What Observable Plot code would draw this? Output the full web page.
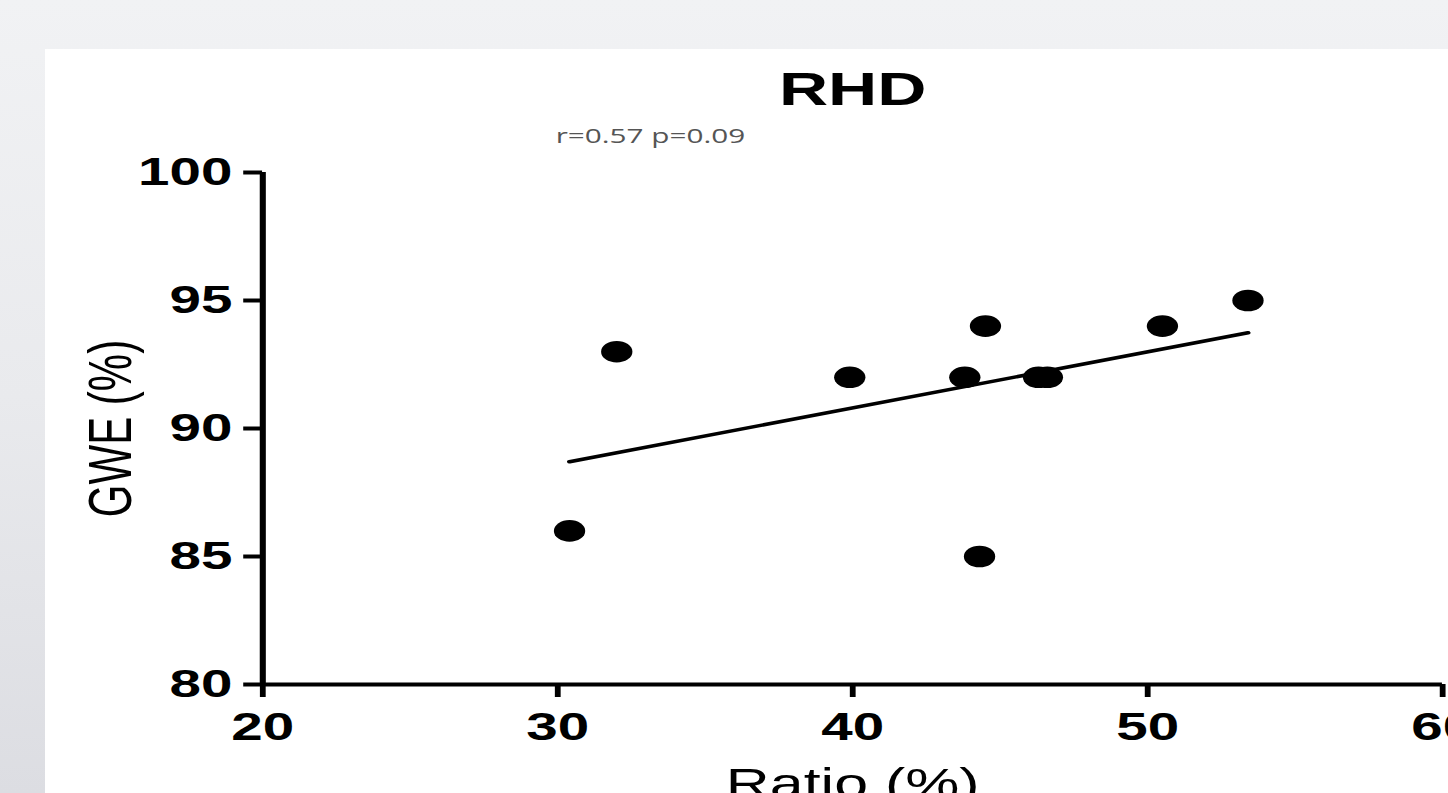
<!DOCTYPE html>
<html>
<head>
<meta charset="utf-8">
<script src="https://cdn.jsdelivr.net/npm/d3@7"></script>
<script src="https://cdn.jsdelivr.net/npm/@observablehq/plot@0.6"></script>
<style>
  html, body { margin: 0; padding: 0; width: 1448px; height: 793px; overflow: hidden; }
  body { background: linear-gradient(to bottom, #f1f2f4 0%, #e9eaed 50%, #dcdde2 100%); position: relative; font-family: "Liberation Sans", Arial, sans-serif; }
  #panel { position: absolute; left: 45px; top: 49px; right: 0; bottom: 0; background: #ffffff; overflow: hidden; }
  #chart { position: absolute; left: 0; top: 0; }
</style>
</head>
<body>
<div id="panel"><div id="chart"></div></div>
<script>
// ---- data ----
const ratio = [30.4, 32.0, 39.9, 43.8, 44.5, 44.3, 46.3, 46.6, 50.5, 53.4];
const gwe   = [86,   93,   92,   92,   94,   85,   92,   92,   94,   95];
const xTicks = [20, 30, 40, 50, 60];
const yTicks = [80, 85, 90, 95, 100];
const xDomain = [20, 60];
const yDomain = [80, 100];
const title = "RHD";
const annotation = "r=0.57 p=0.09";
const xLabel = "Ratio (%)";
const yLabel = "GWE (%)";

const points = ratio.map((r, i) => ({ratio: r, gwe: gwe[i]}));

// The reference image is stretched horizontally; draw at a narrower width and stretch.
const stretch = 1.45;
const W = 1000, H = 800;

const chart = Plot.plot({
  width: W,
  height: H,
  marginLeft: 149.7,
  marginRight: 36.6,
  marginTop: 123,
  marginBottom: 165,
  style: {fontFamily: "'Liberation Sans', Arial, sans-serif", background: "transparent", color: "#000"},
  x: {domain: xDomain, ticks: xTicks, label: null},
  y: {domain: yDomain, ticks: yTicks, label: null},
  marks: [
    Plot.ruleX([xDomain[0]], {stroke: "#000", strokeWidth: 4.2}),
    Plot.ruleY([yDomain[0]], {stroke: "#000", strokeWidth: 4.2}),
    Plot.axisX({ticks: xTicks, tickSize: 13, tickPadding: 15, strokeWidth: 4, fontSize: 39, fontWeight: "bold", label: null}),
    Plot.axisY({ticks: yTicks, tickSize: 13, tickPadding: 8, strokeWidth: 4, fontSize: 39, fontWeight: "bold", label: null}),
    Plot.linearRegressionY(points, {x: "ratio", y: "gwe", stroke: "#000", strokeWidth: 3.5, ci: 0}),
    Plot.dot(points, {x: "ratio", y: "gwe", r: 10.8, fill: "#000", stroke: "none"}),
    Plot.text([title], {frameAnchor: "top", dy: -68, lineAnchor: "bottom", fontSize: 47, fontWeight: "bold", fill: "#000"}),
    Plot.text([annotation], {frameAnchor: "top-left", dx: 202, dy: -30, lineAnchor: "bottom", textAnchor: "start", fontSize: 20.5, fill: "#555", fontFamily: "'Open Sans', sans-serif"}),
    Plot.text([xLabel], {frameAnchor: "bottom", dy: 84, lineAnchor: "top", fontSize: 42, fill: "#000"}),
    Plot.text([yLabel], {frameAnchor: "left", dx: -121, rotate: -90, textAnchor: "middle", lineAnchor: "top", fontSize: 42, fill: "#000"})
  ]
});

chart.setAttribute("viewBox", `0 0 ${W} ${H}`);
chart.setAttribute("width", W * stretch);
chart.setAttribute("height", H);
chart.setAttribute("preserveAspectRatio", "none");
chart.style.maxWidth = "none";
chart.style.width = (W * stretch) + "px";
chart.style.height = H + "px";
chart.style.overflow = "visible";
document.getElementById("chart").appendChild(chart);
</script>
</body>
</html>
